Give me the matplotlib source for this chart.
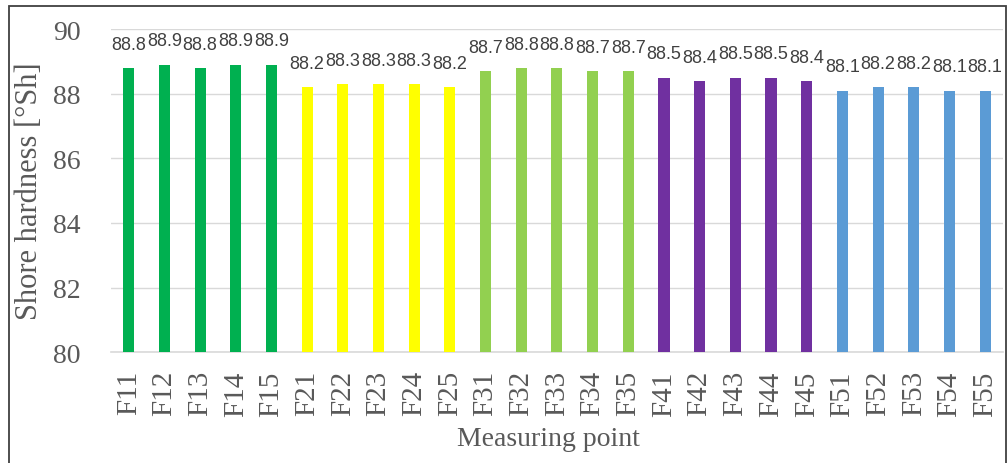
import matplotlib.pyplot as plt
from matplotlib.patches import Rectangle

# Shore hardness per measuring point, grouped by series F1..F5
points = ['F11', 'F12', 'F13', 'F14', 'F15',
          'F21', 'F22', 'F23', 'F24', 'F25',
          'F31', 'F32', 'F33', 'F34', 'F35',
          'F41', 'F42', 'F43', 'F44', 'F45',
          'F51', 'F52', 'F53', 'F54', 'F55']
hardness = [88.8, 88.9, 88.8, 88.9, 88.9,
            88.2, 88.3, 88.3, 88.3, 88.2,
            88.7, 88.8, 88.8, 88.7, 88.7,
            88.5, 88.4, 88.5, 88.5, 88.4,
            88.1, 88.2, 88.2, 88.1, 88.1]
group_colors = ['#00B050', '#FFFF00', '#92D050', '#7030A0', '#5B9BD5']
colors = [group_colors[i // 5] for i in range(len(points))]

fig = plt.figure(figsize=(10.08, 4.64), dpi=100)
ax = fig.add_axes([0.110, 0.239, 0.885, 0.696])

x = range(len(points))
ax.bar(x, hardness, width=0.31, color=colors, zorder=3)

for xi, v in zip(x, hardness):
    ax.annotate(f'{v:.1f}', (xi, v), xytext=(0, 11), textcoords='offset points',
                ha='center', va='bottom', fontsize=13, color='#404040',
                family='Liberation Sans')

ax.set_xlim(-0.5, len(points) - 0.5)
ax.set_ylim(80, 90)
ax.set_yticks(range(80, 91, 2))
ax.set_xticks(list(x))
ax.set_xticklabels(points, rotation=90)
ax.tick_params(axis='both', length=0, labelcolor='#595959')
ax.tick_params(axis='y', pad=22, labelsize=20)
ax.tick_params(axis='x', pad=13, labelsize=21)
for lab in ax.get_xticklabels() + ax.get_yticklabels():
    lab.set_family('Liberation Serif')

ax.grid(axis='y', color='#d9d9d9', linewidth=1, zorder=0)
for side in ['top', 'right', 'left']:
    ax.spines[side].set_visible(False)
ax.spines['bottom'].set_color('#d9d9d9')
ax.spines['bottom'].set_linewidth(1.2)

ax.set_xlabel('Measuring point', fontsize=20, color='#595959',
              family='Liberation Serif')
ax.xaxis.set_label_coords(0.49, -0.23)
ax.set_ylabel('Shore hardness [°Sh]', fontsize=22, color='#595959',
              family='Liberation Serif', labelpad=6)

# chart border (bottom edge lies outside the figure)
fig.patches.append(Rectangle((9 / 1008, -0.05), 997 / 1008, 1.05 - 7 / 464,
                             transform=fig.transFigure, fill=False,
                             edgecolor='#404040', linewidth=1.3))

fig.savefig('out.png', dpi=100)
